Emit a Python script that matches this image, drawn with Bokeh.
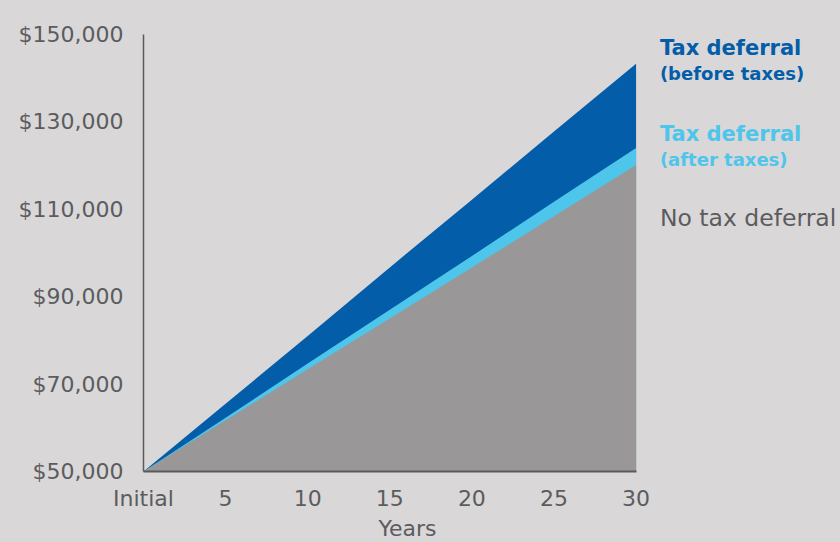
from bokeh.plotting import figure
from bokeh.models import Range1d, Label, FixedTicker, NumeralTickFormatter, Title
from bokeh.embed import file_html
from bokeh.resources import INLINE

# ---- data ----
years = [0, 5, 10, 15, 20, 25, 30]
year_labels = ["Initial", "5", "10", "15", "20", "25", "30"]
before_taxes = [50000, 65500, 81000, 96700, 112200, 127800, 143300]
after_taxes = [50000, 62300, 74700, 87000, 99300, 111700, 124000]
no_deferral = [50000, 61700, 73400, 85000, 96700, 108400, 120100]
y_ticks = [50000, 70000, 90000, 110000, 130000, 150000]
series_names = ["Tax deferral", "Tax deferral", "No tax deferral"]
series_subs = ["(before taxes)", "(after taxes)", ""]

BG = "#d9d7d8"
DARK = "#035da8"
LIGHT = "#4ec5ea"
GRAY = "#999798"
TXT = "#5b5c5e"
FONT = "DejaVu Sans"

# frame spans to the right/top edge so the series labels can sit inside it;
# axis bounds keep the axis lines to the data extent
p = figure(width=840, height=542, output_backend="svg", toolbar_location=None,
           x_range=Range1d(0, 42.45), y_range=Range1d(50000, 157760),
           min_border_left=143, min_border_right=0, min_border_top=0,
           min_border_bottom=71)
p.background_fill_color = BG
p.border_fill_color = BG
p.outline_line_color = None
p.xgrid.visible = False
p.ygrid.visible = False
p.styles = {"background-color": BG}

base = [y_ticks[0]] * len(years)
p.varea(x=years, y1=base, y2=before_taxes, fill_color=DARK)
p.varea(x=years, y1=base, y2=after_taxes, fill_color=LIGHT)
p.varea(x=years, y1=base, y2=no_deferral, fill_color=GRAY)

# axes
p.xaxis.ticker = FixedTicker(ticks=years)
p.xaxis.major_label_overrides = {y: l for y, l in zip(years, year_labels)}
p.xaxis.bounds = (years[0], years[-1])
p.yaxis.ticker = FixedTicker(ticks=y_ticks)
p.yaxis.formatter = NumeralTickFormatter(format="$0,0")
p.yaxis.bounds = (y_ticks[0], y_ticks[-1])
for ax in (p.xaxis, p.yaxis):
    ax.major_tick_line_color = None
    ax.minor_tick_line_color = None
    ax.major_tick_out = 0
    ax.major_tick_in = 0
    ax.axis_line_color = "#5a5a5c"
    ax.major_label_text_font = FONT
    ax.major_label_text_font_size = "22px"
    ax.major_label_text_color = TXT
p.xaxis.axis_line_width = 2
p.yaxis.axis_line_width = 1.5
p.yaxis.major_label_standoff = 20
p.xaxis.major_label_standoff = 14

# x-axis title, placed under the plotted years
p.add_layout(Title(text="Years", align="left", offset=235, text_font=FONT,
                   text_font_size="22px", text_font_style="normal",
                   text_color=TXT, standoff=0), "below")

# series labels at the right
lx = 31.45
label_specs = [
    (series_names[0], 147000, DARK, "21px", "bold"),
    (series_subs[0], 141000, DARK, "18px", "bold"),
    (series_names[1], 127300, LIGHT, "21px", "bold"),
    (series_subs[1], 121400, LIGHT, "18px", "bold"),
    (series_names[2], 107900, TXT, "23.5px", "normal"),
]
for txt, yy, col, size, style in label_specs:
    if not txt:
        continue
    p.add_layout(Label(x=lx, y=yy, text=txt, text_color=col, text_font=FONT,
                       text_font_size=size, text_font_style=style,
                       text_baseline="middle", text_align="left"))

open("out.html", "w").write(file_html(p, INLINE))
